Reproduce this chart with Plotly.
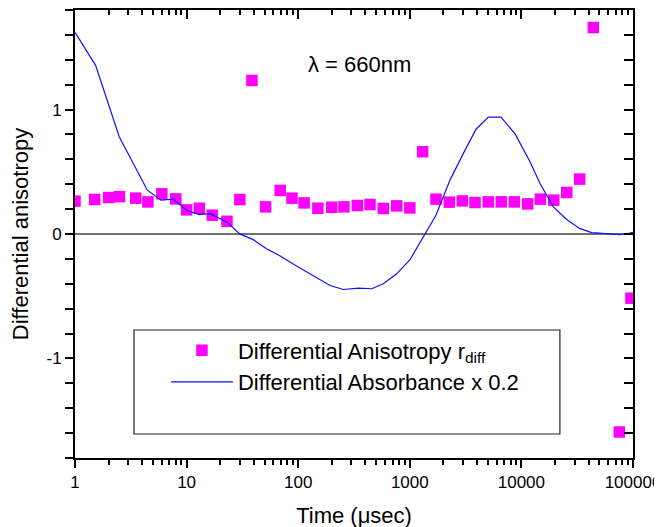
import plotly.graph_objects as go

# Differential anisotropy (markers)
t_aniso = [1, 1.5, 2, 2.5, 3.5, 4.5, 6, 8, 10, 13, 17, 23, 30, 38.5, 51, 69, 88, 113,
           150, 200, 257, 339, 440, 579, 763, 1000, 1303, 1717, 2262, 2955, 3839,
           5050, 6600, 8640, 11380, 14790, 19500, 25500, 33300, 44100, 75400, 95900]
r_diff = [0.264, 0.277, 0.293, 0.300, 0.288, 0.258, 0.323, 0.282, 0.194, 0.207,
          0.151, 0.102, 0.277, 1.234, 0.218, 0.350, 0.288, 0.250, 0.207, 0.215,
          0.218, 0.229, 0.237, 0.205, 0.226, 0.210, 0.661, 0.280, 0.256, 0.266,
          0.253, 0.258, 0.258, 0.258, 0.242, 0.280, 0.272, 0.334, 0.441, 1.659,
          -1.591, -0.516]

# Differential absorbance x 0.2 (line)
t_abs = [1, 1.53, 2.49, 4.45, 5.9, 7.6, 10, 13, 16.2, 22.9, 29.7, 39.5, 52, 69, 94,
         128, 193, 254, 346, 456, 579, 763, 1004, 1717, 2290, 3020, 3920, 5050,
         6560, 8770, 11940, 14690, 19320, 25460, 33500, 42660, 58100, 75400, 94000,
         100000]
d_abs = [1.62, 1.355, 0.782, 0.352, 0.272, 0.28, 0.191, 0.156, 0.164, 0.097, 0.003,
         -0.045, -0.118, -0.177, -0.252, -0.32, -0.414, -0.446, -0.435, -0.44, -0.40,
         -0.32, -0.207, 0.151, 0.433, 0.648, 0.842, 0.939, 0.939, 0.804, 0.58, 0.406,
         0.218, 0.116, 0.043, 0.011, 0.003, -0.005, 0.008, 0.013]

x_major = [1, 10, 100, 1000, 10000, 100000]
x_labels = ["1", "10", "100", "1000", "10000", "100000"]
x_minor = [m * d for d in [1, 10, 100, 1000, 10000] for m in range(2, 10)]
y_major = [-1, 0, 1]
y_labels = ["-1", "0", "1"]
y_minor = [round(-1.8 + 0.2 * i, 1) for i in range(19)]

FONT = "Liberation Sans, Arial, sans-serif"

fig = go.Figure()
fig.add_trace(go.Scatter(
    x=t_aniso, y=r_diff, mode="markers",
    name="Differential Anisotropy r<sub>diff</sub>",
    marker=dict(symbol="square", size=11.5, color="#FF00FF", line=dict(width=0)),
))
fig.add_trace(go.Scatter(
    x=t_abs, y=d_abs, mode="lines",
    name="Differential Absorbance x 0.2",
    line=dict(color="#1010FF", width=1.2),
))
# invisible trace for mirrored top/right axes
fig.add_trace(go.Scatter(
    x=t_aniso, y=r_diff, mode="markers", xaxis="x2", yaxis="y2",
    marker=dict(opacity=0), showlegend=False, hoverinfo="skip",
))

axis_common = dict(showgrid=False, showline=True, linecolor="black", linewidth=2,
                   tickcolor="black", tickwidth=1.5, automargin=False)

fig.update_layout(
    width=662, height=527,
    margin=dict(l=67, r=37, t=2, b=77, pad=0),
    paper_bgcolor="white", plot_bgcolor="white",
    font=dict(family=FONT, color="black"),
    xaxis=dict(type="log", range=[0, 5], ticks="outside", ticklen=8,
               tickvals=x_major, ticktext=x_labels, tickfont=dict(size=17),
               minor=dict(tickvals=x_minor, ticks="outside", ticklen=5,
                          tickwidth=1.5, tickcolor="black"),
               title=dict(text="Time (\u03bcsec)", font=dict(size=22), standoff=16),
               zeroline=False, **axis_common),
    yaxis=dict(range=[-1.8, 1.8], ticks="outside", ticklen=8,
               tickvals=y_major, ticktext=y_labels, tickfont=dict(size=17),
               minor=dict(tickvals=y_minor, ticks="outside", ticklen=8,
                          tickwidth=1.5, tickcolor="black"),
               title=dict(text="Differential anisotropy", font=dict(size=22), standoff=12),
               zeroline=True, zerolinecolor="#707070", zerolinewidth=1.5,
               **axis_common),
    xaxis2=dict(type="log", range=[0, 5], overlaying="x", side="top", anchor="y",
                ticks="inside", ticklen=9, tickvals=x_major, showticklabels=False,
                minor=dict(tickvals=x_minor, ticks="inside", ticklen=5,
                           tickwidth=1.5, tickcolor="black"),
                zeroline=False, **axis_common),
    yaxis2=dict(range=[-1.8, 1.8], overlaying="y", side="right", anchor="x",
                ticks="inside", ticklen=9, tickvals=y_major, showticklabels=False,
                minor=dict(tickvals=y_minor, ticks="inside", ticklen=9,
                           tickwidth=1.5, tickcolor="black"),
                zeroline=False, **axis_common),
    legend=dict(x=0.163, y=0.287, xanchor="left", yanchor="top",
                bgcolor="rgba(0,0,0,0)", borderwidth=0,
                font=dict(size=22), itemwidth=62, tracegroupgap=0),
    showlegend=True,
)

fig.add_shape(type="rect", xref="paper", yref="paper",
              x0=0.1057, x1=0.869, y0=0.0536, y1=0.2857,
              line=dict(color="#222222", width=1.2), fillcolor="rgba(0,0,0,0)")

fig.add_annotation(x=2.55, y=1.36, xref="x", yref="y", text="\u03bb = 660nm",
                   showarrow=False, font=dict(size=22, family=FONT))

fig.write_html("out.html")
